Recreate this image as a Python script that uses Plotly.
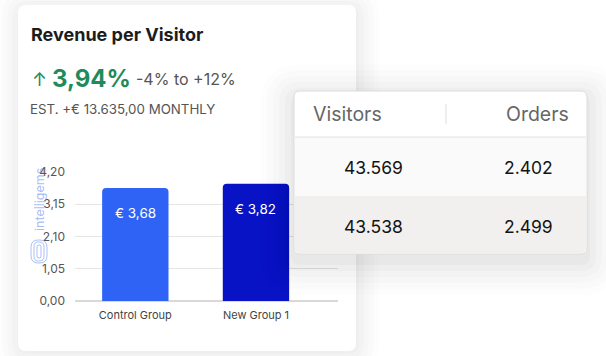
import plotly.graph_objects as go

W, H = 606, 356

categories = ["Control Group", "New Group 1"]
rpv_values = [3.68, 3.82]
bar_labels = ["€ 3,68", "€ 3,82"]
bar_colors = ["#2F63F6", "#0913C6"]
y_tick_vals = [0, 1.05, 2.10, 3.15, 4.20]
y_tick_text = ["0,00", "1,05", "2,10", "3,15", "4,20"]

table_headers = ["Visitors", "Orders"]
visitors = ["43.569", "43.538"]
orders = ["2.402", "2.499"]

FONT = "Inter"


def px(x):
    return x / W


def py(y):
    return 1 - y / H


def rrect(x0, y0, x1, y1, r, top=True, bottom=True):
    X0, X1 = px(x0), px(x1)
    Y0, Y1 = py(y0), py(y1)
    rx, ry = r / W, r / H
    rt = (rx, ry) if top else (0, 0)
    rb = (rx, ry) if bottom else (0, 0)
    p = f"M {X0 + rt[0]},{Y0} L {X1 - rt[0]},{Y0} "
    p += f"Q {X1},{Y0} {X1},{Y0 - rt[1]} " if top else ""
    p += f"L {X1},{Y1 + rb[1]} "
    p += f"Q {X1},{Y1} {X1 - rb[0]},{Y1} " if bottom else ""
    p += f"L {X0 + rb[0]},{Y1} "
    p += f"Q {X0},{Y1} {X0},{Y1 + rb[1]} " if bottom else ""
    p += f"L {X0},{Y0 - rt[1]} "
    p += f"Q {X0},{Y0} {X0 + rt[0]},{Y0} Z" if top else "Z"
    return p


fig = go.Figure()
fig.add_trace(go.Bar(
    x=categories, y=rpv_values, marker_color=bar_colors, width=0.55,
    marker_line_width=0, hoverinfo="skip",
))

shapes = []
# main card shadows
for i, op in enumerate([0.016, 0.014, 0.012, 0.01, 0.008]):
    g = 3 + i * 5
    shapes.append(dict(type="path", path=rrect(18 - g + 2, 5 - g + 4, 356 + g, 351 + g, 8 + g),
                       xref="paper", yref="paper", fillcolor=f"rgba(0,0,0,{op})",
                       line_width=0, layer="below"))
shapes.append(dict(type="path", path=rrect(18, 5, 356, 351, 8), xref="paper", yref="paper",
                   fillcolor="white", line_width=0, layer="below"))
# table card shadows
for i, op in enumerate([0.022, 0.02, 0.016, 0.013, 0.01, 0.008]):
    g = 3 + i * 6
    shapes.append(dict(type="path", path=rrect(294 - g, 91 - g + 6, 587 + g, 254 + g + 8, 6 + g),
                       xref="paper", yref="paper", fillcolor=f"rgba(0,0,0,{op})",
                       line_width=0, layer="above"))
shapes.append(dict(type="path", path=rrect(294, 91, 587, 254, 6), xref="paper", yref="paper",
                   fillcolor="#FFFFFF", line=dict(color="#DCDCDC", width=1), layer="above"))
shapes.append(dict(type="path", path=rrect(295, 137, 586, 196, 0, top=False, bottom=False),
                   xref="paper", yref="paper", fillcolor="#FAFAFA", line_width=0, layer="above"))
shapes.append(dict(type="path", path=rrect(295, 196, 586, 253, 5, top=False),
                   xref="paper", yref="paper", fillcolor="#F1F0EF", line_width=0, layer="above"))
shapes.append(dict(type="line", x0=px(295), x1=px(586), y0=py(137), y1=py(137),
                   xref="paper", yref="paper", line=dict(color="#E2E2E2", width=1), layer="above"))
shapes.append(dict(type="line", x0=px(446), x1=px(446), y0=py(104), y1=py(124),
                   xref="paper", yref="paper", line=dict(color="#DDDDDD", width=1), layer="above"))
# watermark logo
logo_col = "rgba(90,130,235,0.5)"
for (a, b, c, d) in [(31, 240, 47, 263), (34, 242, 44, 261), (37, 245, 41, 258)]:
    shapes.append(dict(type="path", path=rrect(a, b, c, d, (c - a) / 2.2), xref="paper", yref="paper",
                       fillcolor="rgba(0,0,0,0)", line=dict(color=logo_col, width=1), layer="above"))

ann = []
ann.append(dict(text="<b>Revenue per Visitor</b>", x=px(29), y=py(35), xanchor="left", yanchor="middle",
                font=dict(family=FONT, size=18, color="#1C1C1C")))
ann.append(dict(text="↑", x=px(30), y=py(79), xanchor="left", yanchor="middle",
                font=dict(family=FONT, size=18, color="#1F8A5B")))
ann.append(dict(text="<b>3,94%</b>", x=px(50), y=py(78), xanchor="left", yanchor="middle",
                font=dict(family=FONT, size=24, color="#1F8A5B")))
ann.append(dict(text="-4% to +12%", x=px(134), y=py(79), xanchor="left", yanchor="middle",
                font=dict(family=FONT, size=16, color="#555555")))
ann.append(dict(text="EST. +€ 13.635,00 MONTHLY", x=px(28), y=py(109), xanchor="left", yanchor="middle",
                font=dict(family=FONT, size=13.3, color="#555555")))
ann.append(dict(text="intelligems", x=px(39), y=py(200), xanchor="center", yanchor="middle", textangle=-90,
                font=dict(family=FONT, size=12.5, color="rgba(90,130,235,0.55)")))
# table
ann.append(dict(text=table_headers[0], x=px(311), y=py(114), xanchor="left", yanchor="middle",
                font=dict(family=FONT, size=19.5, color="#666666")))
ann.append(dict(text=table_headers[1], x=px(571), y=py(114), xanchor="right", yanchor="middle",
                font=dict(family=FONT, size=19.5, color="#666666")))
for i, yy in enumerate([167, 226]):
    ann.append(dict(text=visitors[i], x=px(373), y=py(yy), xanchor="center", yanchor="middle",
                    font=dict(family=FONT, size=17.5, color="#141414")))
    ann.append(dict(text=orders[i], x=px(555), y=py(yy), xanchor="right", yanchor="middle",
                    font=dict(family=FONT, size=17.5, color="#141414")))
for a in ann:
    a.update(xref="paper", yref="paper", showarrow=False)
# bar value labels (data coordinates)
for c, v, t in zip(categories, rpv_values, bar_labels):
    ann.append(dict(text=t, x=c, y=v, xref="x", yref="y", yshift=-25, showarrow=False,
                    xanchor="center", yanchor="middle",
                    font=dict(family=FONT, size=13.5, color="white")))

fig.update_layout(
    width=W, height=H, margin=dict(l=0, r=0, t=0, b=0, autoexpand=False),
    paper_bgcolor="#FFFFFF", plot_bgcolor="rgba(0,0,0,0)",
    showlegend=False, barcornerradius=4,
    shapes=shapes, annotations=ann,
    xaxis=dict(domain=[px(75), px(338)], range=[-0.5, 1.68], showgrid=False, showline=False,
               zeroline=False, ticks="", automargin=False, ticklabelstandoff=6,
               tickfont=dict(family=FONT, size=11, color="#444444")),
    yaxis=dict(domain=[py(301), py(172)], range=[0, 4.2], tickvals=y_tick_vals, ticktext=y_tick_text,
               showgrid=True, gridcolor="#E9E4E4", gridwidth=1, zeroline=True, zerolinecolor="#DDD8D8",
               showline=False, ticks="", ticklabelstandoff=9, automargin=False,
               tickfont=dict(family=FONT, size=12, color="#555555")),
)

fig.write_html("out.html")
